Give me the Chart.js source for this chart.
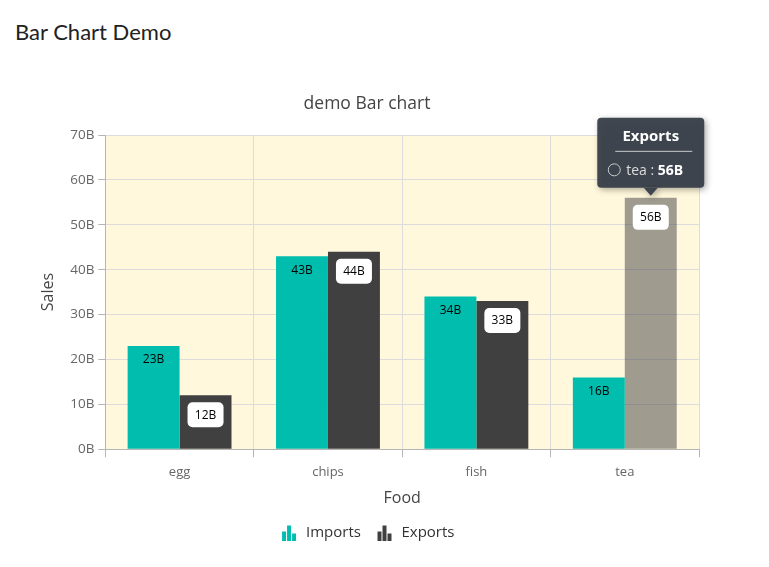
<!DOCTYPE html>
<html>
<head>
<meta charset="utf-8">
<script src="https://cdn.jsdelivr.net/npm/chart.js@4"></script>
<style>
  body { margin: 0; background: #fff; }
  h2 { position: absolute; left: 15px; top: 18px; margin: 0; font: 400 22px Lato, sans-serif; color: #222; }
  #wrap { position: absolute; left: 15px; top: 70px; width: 712px; height: 490px; }
</style>
</head>
<body>
<h2>Bar Chart Demo</h2>
<div id="wrap"><canvas id="c"></canvas></div>
<script>
// chart data
const foods = ['egg', 'chips', 'fish', 'tea'];
const imports = [23, 43, 34, 16];
const exports = [12, 44, 33, 56];
const yTicks = [0, 10, 20, 30, 40, 50, 60, 70];

const FONT = '"Open Sans", sans-serif';
const TEAL = '#00bdae';
const DARK = '#404041';

// tooltip target (the hovered bar in the picture)
const hover = { dataset: 1, index: 3 };

function barIcon(color) {
  const c = document.createElement('canvas');
  c.width = 16; c.height = 16;
  const g = c.getContext('2d');
  g.fillStyle = color;
  g.fillRect(1, 7, 4, 9);
  g.fillRect(6, 1, 4, 15);
  g.fillRect(11, 9, 4, 7);
  return c;
}

function roundRect(g, x, y, w, h, r) {
  g.beginPath();
  g.moveTo(x + r, y);
  g.arcTo(x + w, y, x + w, y + h, r);
  g.arcTo(x + w, y + h, x, y + h, r);
  g.arcTo(x, y + h, x, y, r);
  g.arcTo(x, y, x + w, y, r);
  g.closePath();
}

const plotBg = {
  id: 'plotBg',
  beforeDraw(chart) {
    const a = chart.chartArea, g = chart.ctx;
    g.save();
    g.fillStyle = '#fff8dc';
    g.fillRect(a.left, a.top, a.right - a.left, a.bottom - a.top);
    g.restore();
  }
};

// value labels on top of each bar
const barLabels = {
  id: 'barLabels',
  afterDatasetsDraw(chart) {
    const g = chart.ctx;
    g.save();
    g.font = '12px ' + FONT;
    g.textAlign = 'center';
    g.textBaseline = 'middle';
    chart.getDatasetMeta(0).data.forEach((bar, i) => {
      g.fillStyle = '#000';
      g.fillText(imports[i] + 'B', bar.x, bar.y + 14);
    });
    chart.getDatasetMeta(1).data.forEach((bar, i) => {
      g.fillStyle = '#fff';
      roundRect(g, bar.x - 18, bar.y + 7, 36, 25, 5);
      g.fill();
      g.fillStyle = '#000';
      g.fillText(exports[i] + 'B', bar.x, bar.y + 20);
    });
    g.restore();
  }
};

const tipBox = {
  id: 'tipBox',
  afterDraw(chart) {
    const ds = chart.data.datasets[hover.dataset];
    const bar = chart.getDatasetMeta(hover.dataset).data[hover.index];
    const g = chart.ctx;
    const w = 107, h = 70;
    const x = bar.x - w / 2, y = bar.y - 10 - h;
    g.save();
    g.shadowColor = 'rgba(0,0,0,0.35)';
    g.shadowBlur = 6;
    g.shadowOffsetX = 2;
    g.shadowOffsetY = 2;
    g.fillStyle = 'rgba(54,62,72,0.94)';
    roundRect(g, x, y, w, h, 4);
    g.fill();
    g.beginPath();
    g.moveTo(bar.x - 7, y + h);
    g.lineTo(bar.x, y + h + 8);
    g.lineTo(bar.x + 7, y + h);
    g.closePath();
    g.fill();
    g.shadowColor = 'transparent';
    g.textAlign = 'center';
    g.textBaseline = 'middle';
    g.fillStyle = '#fff';
    g.font = 'bold 15px ' + FONT;
    g.fillText(ds.label, bar.x, y + 19);
    g.strokeStyle = '#c8c8c8';
    g.lineWidth = 1;
    g.beginPath();
    g.moveTo(x + 18, y + 33.5);
    g.lineTo(x + w - 12, y + 33.5);
    g.stroke();
    g.beginPath();
    g.arc(x + 17, y + 52, 6, 0, Math.PI * 2);
    g.stroke();
    g.textAlign = 'left';
    g.font = '14px ' + FONT;
    g.fillStyle = '#dcdcdc';
    const part = foods[hover.index] + ' : ';
    g.fillText(part, x + 29, y + 53);
    const pw = g.measureText(part).width;
    g.font = 'bold 14px ' + FONT;
    g.fillStyle = '#fff';
    g.fillText(exports[hover.index] + 'B', x + 29 + pw, y + 53);
    g.restore();
  }
};

new Chart(document.getElementById('c'), {
  type: 'bar',
  data: {
    labels: foods,
    datasets: [
      { label: 'Imports', data: imports, backgroundColor: TEAL, icon: barIcon(TEAL) },
      {
        label: 'Exports', data: exports,
        backgroundColor: exports.map((v, i) => i === hover.index ? 'rgba(64,64,65,0.5)' : DARK),
        icon: barIcon(DARK)
      }
    ]
  },
  options: {
    responsive: true,
    maintainAspectRatio: false,
    animation: false,
    events: [],
    layout: { padding: { left: 20, right: 28, top: 0, bottom: 10 } },
    datasets: { bar: { categoryPercentage: 0.7, barPercentage: 1 } },
    plugins: {
      tooltip: { enabled: false },
      title: {
        display: true,
        text: 'demo Bar chart',
        color: '#444',
        font: { family: FONT, size: 17.5, weight: 'normal' },
        padding: { top: 24, bottom: 20 }
      },
      legend: {
        position: 'bottom',
        labels: {
          color: '#333',
          font: { family: FONT, size: 15 },
          usePointStyle: true,
          pointStyleWidth: 19,
          padding: 14,
          generateLabels(chart) {
            return chart.data.datasets.map((d, i) => ({
              text: d.label,
              pointStyle: d.icon,
              fillStyle: 'transparent',
              strokeStyle: 'transparent',
              lineWidth: 0,
              datasetIndex: i,
              fontColor: '#333'
            }));
          }
        }
      }
    },
    scales: {
      x: {
        grid: { color: '#dcdcdc', offset: true, tickLength: 8, tickColor: '#b5b5b5' },
        border: { color: '#b5b5b5' },
        ticks: { color: '#666', font: { family: FONT, size: 13 }, padding: 7 },
        title: { display: true, text: 'Food', color: '#444', font: { family: FONT, size: 16 }, padding: { top: 2, bottom: 3 } }
      },
      y: {
        min: 0,
        max: 70,
        afterBuildTicks(scale) { scale.ticks = yTicks.map(v => ({ value: v })); },
        grid: { color: '#dcdcdc', tickLength: 7, tickColor: '#b5b5b5' },
        border: { color: '#b5b5b5' },
        ticks: { color: '#666', font: { family: FONT, size: 13.5 }, padding: 4, callback: v => v + 'B' },
        title: { display: true, text: 'Sales', color: '#444', font: { family: FONT, size: 16 }, padding: { bottom: 8 } }
      }
    }
  },
  plugins: [plotBg, barLabels, tipBox]
});
</script>
</body>
</html>
